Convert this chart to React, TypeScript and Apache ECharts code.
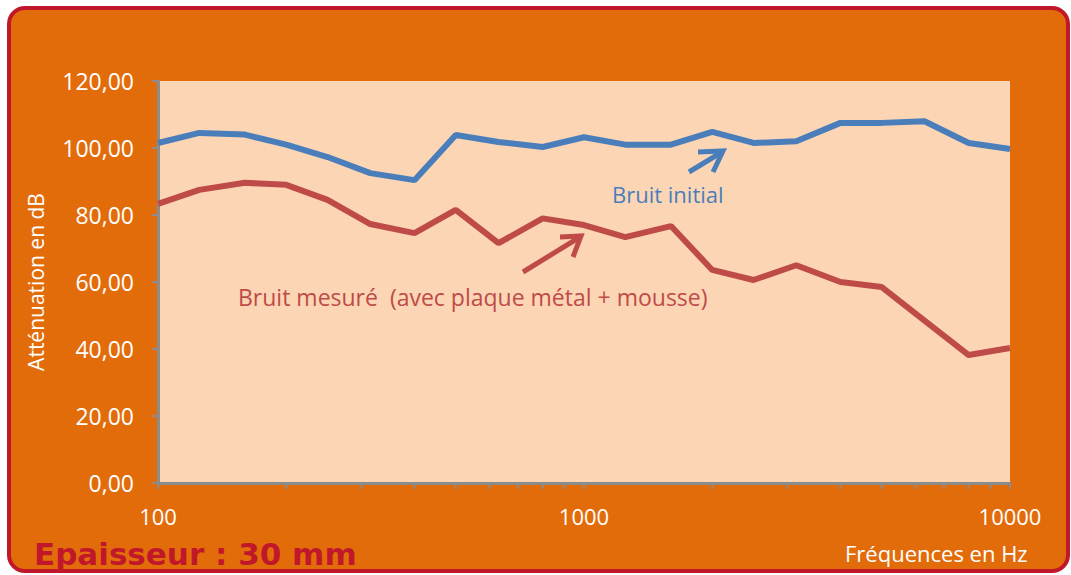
import React, { useEffect, useRef } from "react";
import * as echarts from "echarts";

const frequencies = [100, 125, 160, 200, 250, 315, 400, 500, 630, 800, 1000, 1250, 1600, 2000, 2500, 3150, 4000, 5000, 6300, 8000, 10000];
const bruitInitial = [101.5, 104.5, 104, 101, 97.3, 92.5, 90.4, 103.9, 101.8, 100.3, 103.2, 101, 101, 104.8, 101.5, 102, 107.5, 107.5, 108, 101.5, 99.7];
const bruitMesure = [83.3, 87.5, 89.6, 89, 84.5, 77.3, 74.6, 81.5, 71.6, 79, 77, 73.4, 76.7, 63.6, 60.6, 65, 60, 58.5, 48.5, 38.2, 40.3];
const minorTicks = [200, 300, 400, 500, 600, 700, 800, 900, 2000, 3000, 4000, 5000, 6000, 7000, 8000, 9000];
const yTicks = { min: 0, max: 120, interval: 20 };

const FONT = "'Open Sans', sans-serif";
const BLUE = "#4A7EBB";
const RED = "#BE4B48";
const AXIS = "#8C8C8C";

export default function App() {
  const ref = useRef<HTMLDivElement>(null);
  useEffect(() => {
    const chart = echarts.init(ref.current!, null, { renderer: "svg" });
    chart.setOption({
      animation: false,
      backgroundColor: "#ffffff",
      graphic: [
        {
          type: "rect",
          z: -10,
          shape: { x: 9, y: 8, width: 1059, height: 563, r: 16 },
          style: { fill: "#E36C0A", stroke: "#C0182A", lineWidth: 4 },
        },
        {
          type: "text",
          x: 845,
          y: 553,
          style: { text: "Fréquences en Hz", fill: "#ffffff", font: `22px ${FONT}`, textAlign: "left", textVerticalAlign: "middle" },
        },
        {
          type: "text",
          x: 34,
          y: 554,
          style: {
            text: "Epaisseur : 30 mm",
            fill: "#C0182A",
            font: "bold 31px 'DejaVu Sans', sans-serif",
            textAlign: "left",
            textVerticalAlign: "middle",
          },
        },
        {
          type: "text",
          x: 612,
          y: 194,
          style: { text: "Bruit initial", fill: BLUE, font: `22px ${FONT}`, textAlign: "left", textVerticalAlign: "middle" },
        },
        {
          type: "text",
          x: 238,
          y: 297,
          style: { text: "Bruit mesuré  (avec plaque métal + mousse)", fill: RED, font: `23px ${FONT}`, textAlign: "left", textVerticalAlign: "middle" },
        },
        {
          type: "line",
          shape: { x1: 689, y1: 172, x2: 722, y2: 152 },
          style: { stroke: BLUE, lineWidth: 5 },
        },
        {
          type: "polyline",
          shape: { points: [[698, 152], [723, 151], [713, 172]] },
          style: { stroke: BLUE, lineWidth: 5, fill: "none" },
        },
        {
          type: "line",
          shape: { x1: 523, y1: 272, x2: 580, y2: 237 },
          style: { stroke: RED, lineWidth: 5 },
        },
        {
          type: "polyline",
          shape: { points: [[560, 237], [581, 236], [573, 257]] },
          style: { stroke: RED, lineWidth: 5, fill: "none" },
        },
      ],
      grid: {
        left: 158,
        right: 61,
        top: 81,
        bottom: 92,
        show: true,
        backgroundColor: "#FCD5B5",
        borderWidth: 0,
      },
      xAxis: {
        type: "log",
        logBase: 10,
        min: 100,
        max: 10000,
        axisLine: { show: true, lineStyle: { color: AXIS, width: 3 } },
        axisTick: { show: true, length: 6, lineStyle: { color: AXIS, width: 2 } },
        splitLine: { show: false },
        axisLabel: {
          color: "#ffffff",
          fontSize: 22,
          fontFamily: FONT,
          margin: 22,
          formatter: (v: number) => String(Math.round(v)),
        },
      },
      yAxis: {
        type: "value",
        min: yTicks.min,
        max: yTicks.max,
        interval: yTicks.interval,
        name: "Atténuation en dB",
        nameLocation: "middle",
        nameGap: 112,
        nameTextStyle: { color: "#ffffff", fontSize: 21, fontFamily: FONT },
        axisLine: { show: true, lineStyle: { color: AXIS, width: 3 } },
        axisTick: { show: true, length: 6, lineStyle: { color: AXIS, width: 2 } },
        splitLine: { show: false },
        axisLabel: {
          color: "#ffffff",
          fontSize: 23,
          fontFamily: FONT,
          margin: 24,
          formatter: (v: number) => v.toFixed(2).replace(".", ","),
        },
      },
      series: [
        {
          name: "Bruit initial",
          type: "line",
          data: frequencies.map((f, i) => [f, bruitInitial[i]]),
          showSymbol: false,
          symbol: "none",
          lineStyle: { color: BLUE, width: 6 },
          z: 3,
        },
        {
          name: "Bruit mesuré",
          type: "line",
          data: frequencies.map((f, i) => [f, bruitMesure[i]]),
          showSymbol: false,
          symbol: "none",
          lineStyle: { color: RED, width: 6 },
          z: 3,
        },
        {
          type: "custom",
          clip: false,
          silent: true,
          data: minorTicks.map((f) => [f, 0]),
          renderItem: (params: any, api: any) => {
            const p = api.coord([api.value(0), 0]);
            return {
              type: "line",
              shape: { x1: p[0], y1: p[1], x2: p[0], y2: p[1] + 6 },
              style: { stroke: AXIS, lineWidth: 2 },
            };
          },
          z: 1,
        },
      ],
    });
    return () => chart.dispose();
  }, []);
  return (
    <div
      ref={ref}
      style={{ position: "absolute", left: 0, top: 0, width: 1071, height: 575 }}
    />
  );
}
